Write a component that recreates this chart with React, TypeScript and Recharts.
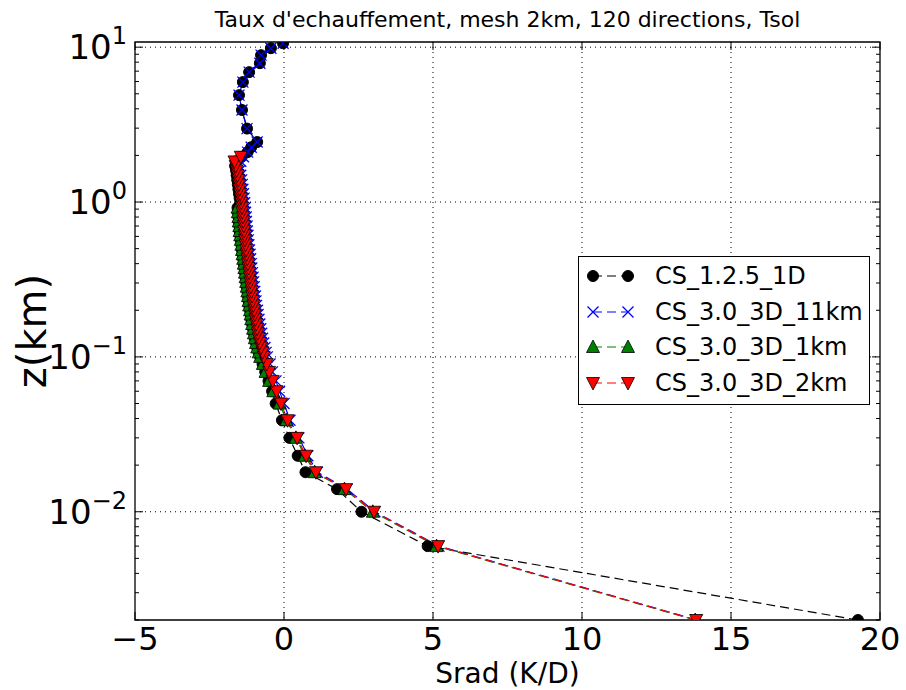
import React from 'react';
import { LineChart, Line, XAxis, YAxis, ReferenceArea } from 'recharts';

// model level heights (km), bottom to top
const levels = [0.002, 0.006, 0.01, 0.014, 0.018, 0.023, 0.03, 0.039, 0.05, 0.06, 0.07, 0.08, 0.09,
  0.1, 0.107, 0.115, 0.123, 0.132, 0.142, 0.152, 0.163, 0.175, 0.188,
  0.2, 0.215, 0.23, 0.247, 0.265, 0.284, 0.305, 0.327, 0.35, 0.375,
  0.4, 0.43, 0.46, 0.49, 0.53, 0.57, 0.61, 0.65, 0.7, 0.75,
  0.8, 0.86, 0.92, 0.99, 1.06, 1.13, 1.21, 1.3, 1.39, 1.49,
  1.6, 1.71, 1.83, 1.96, 2.1, 2.26, 2.44, 2.98, 3.93, 4.9,
  5.95, 6.9, 7.88, 8.88, 9.85, 10.6];

// Srad (K/D) per level for each run
const srad1D = [19.26, 4.82, 2.6, 1.78, 0.72, 0.46, 0.18, -0.07, -0.28, -0.40, -0.52, -0.63, -0.72,
  -0.80, -0.85, -0.90, -0.94, -0.98, -1.01, -1.04, -1.07, -1.10, -1.12,
  -1.14, -1.17, -1.19, -1.21, -1.23, -1.25, -1.27, -1.29, -1.31, -1.33,
  -1.35, -1.37, -1.39, -1.41, -1.43, -1.45, -1.47, -1.49, -1.50, -1.52,
  -1.53, -1.55, -1.56, -1.47, -1.49, -1.51, -1.53, -1.55, -1.57, -1.59,
  -1.61, -1.64, -1.62, -1.42, -1.22, -1.1, -0.9, -1.24, -1.41, -1.51,
  -1.38, -1.17, -0.81, -0.77, -0.44, -0.03];

const srad11km = [13.85, 5.2, 3.05, 2.12, 1.12, 0.8, 0.5, 0.2, 0.0, -0.15, -0.27, -0.39, -0.47,
  -0.56, -0.60, -0.64, -0.68, -0.72, -0.75, -0.78, -0.81, -0.84, -0.87,
  -0.89, -0.92, -0.94, -0.96, -0.98, -1.0, -1.02, -1.04, -1.06, -1.08,
  -1.10, -1.12, -1.14, -1.16, -1.18, -1.2, -1.21, -1.23, -1.24, -1.26,
  -1.27, -1.29, -1.30, -1.32, -1.34, -1.36, -1.38, -1.40, -1.42, -1.45,
  -1.48, -1.50, -1.45, -1.36, -1.22, -1.1, -0.9, -1.24, -1.41, -1.51,
  -1.38, -1.17, -0.81, -0.77, -0.44, -0.03];

const srad1km = [13.8, 5.12, 2.98, 2.03, 1.03, 0.70, 0.40, 0.08, -0.15, -0.36, -0.50, -0.62, -0.71,
  -0.80, -0.85, -0.90, -0.94, -0.98, -1.01, -1.04, -1.07, -1.10, -1.12,
  -1.14, -1.17, -1.19, -1.21, -1.23, -1.25, -1.27, -1.29, -1.31, -1.33,
  -1.35, -1.37, -1.39, -1.41, -1.43, -1.45, -1.47, -1.49, -1.50, -1.52,
  -1.53, -1.55, -1.56];

const srad2km = [13.83, 5.17, 3.02, 2.08, 1.07, 0.74, 0.44, 0.12, -0.10, -0.25, -0.38, -0.50, -0.58,
  -0.68, -0.72, -0.77, -0.81, -0.85, -0.88, -0.90, -0.93, -0.96, -0.98,
  -1.0, -1.03, -1.05, -1.07, -1.09, -1.11, -1.13, -1.15, -1.17, -1.19,
  -1.21, -1.23, -1.25, -1.27, -1.29, -1.31, -1.32, -1.34, -1.35, -1.37,
  -1.38, -1.40, -1.41, -1.43, -1.45, -1.47, -1.49, -1.51, -1.53, -1.56,
  -1.59, -1.62, -1.66, -1.45];

const xTicks = [-5, 0, 5, 10, 15, 20];
const zMajor = [0.01, 0.1, 1, 10];
const zMinor = [0.002, 0.003, 0.004, 0.005, 0.006, 0.007, 0.008, 0.009,
  0.02, 0.03, 0.04, 0.05, 0.06, 0.07, 0.08, 0.09,
  0.2, 0.3, 0.4, 0.5, 0.6, 0.7, 0.8, 0.9,
  2, 3, 4, 5, 6, 7, 8, 9];

const toPoints = (xs: number[]) => xs.map((x, i) => ({ x, z: levels[i] }));

const series = [
  { name: 'CS_1.2.5_1D', data: toPoints(srad1D), color: '#000000', marker: 'circle' },
  { name: 'CS_3.0_3D_11km', data: toPoints(srad11km), color: '#0000ff', marker: 'x' },
  { name: 'CS_3.0_3D_1km', data: toPoints(srad1km), color: '#008000', marker: 'up' },
  { name: 'CS_3.0_3D_2km', data: toPoints(srad2km), color: '#ff0000', marker: 'down' },
];

const W = 906, H = 690;
const PLOT = { left: 135, right: 880, top: 42, bottom: 620 };
const DASH = '9 5';
const FONT = 'DejaVu Sans';

function Marker({ kind, cx, cy, color }: any) {
  if (cx == null || cy == null) return null;
  if (kind === 'circle') return <circle cx={cx} cy={cy} r={5.5} fill="#000" stroke="#000" />;
  if (kind === 'x')
    return <path d={`M${cx - 5.5},${cy - 5.5}L${cx + 5.5},${cy + 5.5}M${cx - 5.5},${cy + 5.5}L${cx + 5.5},${cy - 5.5}`}
      stroke={color} strokeWidth={1.3} fill="none" />;
  if (kind === 'up')
    return <path d={`M${cx},${cy - 7}L${cx + 6.5},${cy + 5.5}L${cx - 6.5},${cy + 5.5}Z`} fill={color} stroke="#000" strokeWidth={0.8} />;
  return <path d={`M${cx},${cy + 7}L${cx + 6.5},${cy - 5.5}L${cx - 6.5},${cy - 5.5}Z`} fill={color} stroke="#000" strokeWidth={0.8} />;
}

function XTick({ x, y, payload }: any) {
  const v = payload.value;
  const edge = v === xTicks[0] || v === xTicks[xTicks.length - 1];
  return (
    <g>
      {!edge && <line x1={x} x2={x} y1={PLOT.top} y2={y} stroke="#000" strokeDasharray="1 4" />}
      <line x1={x} x2={x} y1={y} y2={y - 8} stroke="#000" />
      <line x1={x} x2={x} y1={PLOT.top} y2={PLOT.top + 8} stroke="#000" />
      <text x={x} y={y + 30} textAnchor="middle" fontSize={32} fontFamily={FONT} fill="#000">
        {v < 0 ? `\u2212${Math.abs(v)}` : `${v}`}
      </text>
    </g>
  );
}

function YTick({ x, y, payload }: any) {
  const v = payload.value;
  const major = zMajor.includes(v);
  const len = major ? 8 : 4;
  const exp = Math.round(Math.log10(v));
  return (
    <g>
      <line x1={x} x2={x + len} y1={y} y2={y} stroke="#000" />
      <line x1={PLOT.right} x2={PLOT.right - len} y1={y} y2={y} stroke="#000" />
      {major && <line x1={x} x2={PLOT.right} y1={y} y2={y} stroke="#000" strokeDasharray="1 4" />}
      {major && (
        <text x={x - 8} y={y + 12} textAnchor="end" fontSize={34} fontFamily={FONT} fill="#000">
          10<tspan dy={-15} fontSize={24}>{exp < 0 ? `\u2212${-exp}` : `${exp}`}</tspan>
        </text>
      )}
    </g>
  );
}

function LegendBox() {
  return (
    <div style={{ position: 'absolute', left: 578, top: 256, width: 292, height: 149, boxSizing: 'border-box',
      border: '1px solid #000', background: '#fff', paddingTop: 1 }}>
      {series.map((s) => (
        <div key={s.name} style={{ display: 'flex', alignItems: 'center', height: 35.7 }}>
          <svg width={76} height={30} style={{ flex: 'none' }}>
            <line x1={14} x2={49} y1={15} y2={15} stroke={s.color} strokeWidth={1.2} strokeDasharray={DASH} />
            <Marker kind={s.marker} cx={14} cy={15} color={s.color} />
            <Marker kind={s.marker} cx={49} cy={15} color={s.color} />
          </svg>
          <span style={{ fontFamily: FONT, fontSize: 24, color: '#000', whiteSpace: 'nowrap' }}>{s.name}</span>
        </div>
      ))}
    </div>
  );
}

export default function App() {
  return (
    <div style={{ position: 'absolute', left: 0, top: 0, width: W, height: H, background: '#fff' }}>
      <LineChart width={W} height={H} margin={{ top: PLOT.top, right: W - PLOT.right, bottom: 0, left: 0 }}>
        <XAxis type="number" dataKey="x" domain={[-5, 20]} ticks={xTicks} interval={0} allowDataOverflow
          height={H - PLOT.bottom} tickSize={0} tickMargin={0} axisLine={false} tick={<XTick />} />
        <YAxis type="number" scale="log" domain={[0.002, 10.8]} allowDataOverflow
          ticks={[...zMinor, ...zMajor]} interval={0} width={PLOT.left} tickSize={0} tickMargin={0}
          axisLine={false} tick={<YTick />} />
        {series.map((s) => (
          <Line key={s.name} data={s.data} dataKey="z" name={s.name} stroke={s.color} strokeWidth={1.2}
            strokeDasharray={DASH} isAnimationActive={false} activeDot={false}
            dot={(p: any) => <Marker key={`${s.name}-${p.index}`} kind={s.marker} cx={p.cx} cy={p.cy} color={s.color} />} />
        ))}
        <ReferenceArea x1={-5} x2={20} y1={0.002} y2={10.8} fill="none" stroke="#000" strokeWidth={1.3} />
      </LineChart>
      <svg width={W} height={H} style={{ position: 'absolute', left: 0, top: 0, pointerEvents: 'none' }}>
        <text x={(PLOT.left + PLOT.right) / 2} y={27} textAnchor="middle" fontSize={22} fontFamily={FONT}>
          Taux d'echauffement, mesh 2km, 120 directions, Tsol
        </text>
        <text x={(PLOT.left + PLOT.right) / 2} y={683} textAnchor="middle" fontSize={28} fontFamily={FONT}>
          Srad (K/D)
        </text>
        <text transform={`translate(46,${(PLOT.top + PLOT.bottom) / 2}) rotate(-90)`} textAnchor="middle"
          fontSize={40} fontFamily={FONT}>
          z(km)
        </text>
      </svg>
      <LegendBox />
    </div>
  );
}
